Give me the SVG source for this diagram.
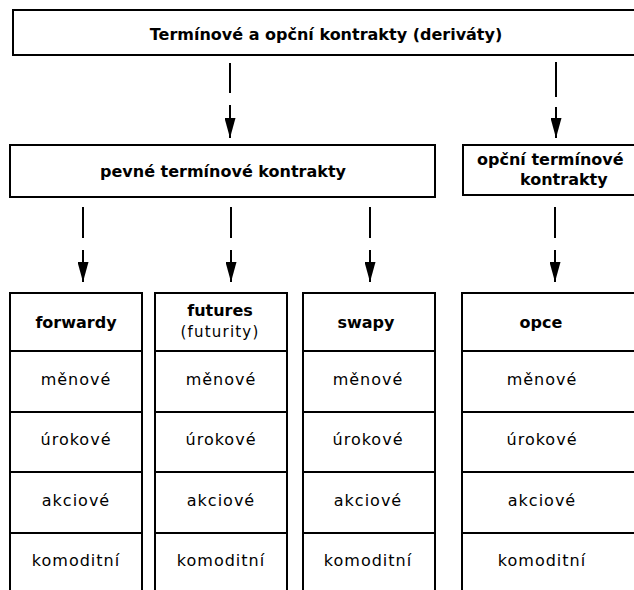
<svg xmlns="http://www.w3.org/2000/svg" width="634" height="590" viewBox="0 0 634 590">
<defs>
<style>
.box{fill:#fff;stroke:#000;stroke-width:2}
.div{stroke:#000;stroke-width:2}
.b{font-family:"DejaVu Sans","Liberation Sans",sans-serif;font-weight:bold;font-size:16px;fill:#000}
.r{font-family:"DejaVu Sans","Liberation Sans",sans-serif;font-size:16px;letter-spacing:1px;fill:#000}
.m{text-anchor:middle}
.con{fill:none;stroke:#000;stroke-width:2}
</style>
<marker id="ah" viewBox="0 0 20 11" refX="20" refY="5.5" markerWidth="20" markerHeight="11" markerUnits="userSpaceOnUse" orient="auto">
<path d="M0,0 L20,5.5 L0,11 z" fill="#000"/>
</marker>
</defs>
<rect width="634" height="590" fill="#fff"/>

<g id="connectors">
<path class="con" d="M230,63 V93 M230,105 V138" marker-end="url(#ah)"/>
<path class="con" d="M556,62 V97 M556,107 V138" marker-end="url(#ah)"/>
<path class="con" d="M83,207 V238 M83,250 V282" marker-end="url(#ah)"/>
<path class="con" d="M231,207 V238 M231,250 V282" marker-end="url(#ah)"/>
<path class="con" d="M370,207 V238 M370,250 V282" marker-end="url(#ah)"/>
<path class="con" d="M555,207 V238 M555,250 V282" marker-end="url(#ah)"/>
</g>

<g id="root">
<rect class="box" x="13" y="10" width="640" height="45"/>
<text class="b m" x="326" y="40">Termínové a opční kontrakty (deriváty)</text>
</g>

<g id="pevne">
<rect class="box" x="10" y="145" width="425" height="52"/>
<text class="b m" x="223" y="177">pevné termínové kontrakty</text>
</g>

<g id="opcni">
<rect class="box" x="463" y="145" width="190" height="50"/>
<text class="b" x="477" y="165">opční termínové</text>
<text class="b" x="520" y="185">kontrakty</text>
</g>

<g id="forwardy">
<rect class="box" x="10" y="293" width="132" height="310"/>
<line class="div" x1="10" y1="351" x2="142" y2="351"/>
<line class="div" x1="10" y1="412" x2="142" y2="412"/>
<line class="div" x1="10" y1="472" x2="142" y2="472"/>
<line class="div" x1="10" y1="533" x2="142" y2="533"/>
<text class="b m" x="76" y="328">forwardy</text>
<text class="r m" x="76" y="385">měnové</text>
<text class="r m" x="76" y="445">úrokové</text>
<text class="r m" x="76" y="506">akciové</text>
<text class="r m" x="76" y="566">komoditní</text>
</g>

<g id="futures">
<rect class="box" x="155" y="293" width="132" height="310"/>
<line class="div" x1="155" y1="351" x2="287" y2="351"/>
<line class="div" x1="155" y1="412" x2="287" y2="412"/>
<line class="div" x1="155" y1="472" x2="287" y2="472"/>
<line class="div" x1="155" y1="533" x2="287" y2="533"/>
<text class="b m" x="220" y="316">futures</text>
<text class="r m" x="220" y="337" style="font-size:15px;letter-spacing:1.2px">(futurity)</text>
<text class="r m" x="221" y="385">měnové</text>
<text class="r m" x="221" y="445">úrokové</text>
<text class="r m" x="221" y="506">akciové</text>
<text class="r m" x="221" y="566">komoditní</text>
</g>

<g id="swapy">
<rect class="box" x="303" y="293" width="132" height="310"/>
<line class="div" x1="303" y1="351" x2="435" y2="351"/>
<line class="div" x1="303" y1="412" x2="435" y2="412"/>
<line class="div" x1="303" y1="472" x2="435" y2="472"/>
<line class="div" x1="303" y1="533" x2="435" y2="533"/>
<text class="b m" x="366" y="328">swapy</text>
<text class="r m" x="368" y="385">měnové</text>
<text class="r m" x="368" y="445">úrokové</text>
<text class="r m" x="368" y="506">akciové</text>
<text class="r m" x="368" y="566">komoditní</text>
</g>

<g id="opce">
<rect class="box" x="462" y="293" width="200" height="310"/>
<line class="div" x1="462" y1="351" x2="662" y2="351"/>
<line class="div" x1="462" y1="412" x2="662" y2="412"/>
<line class="div" x1="462" y1="472" x2="662" y2="472"/>
<line class="div" x1="462" y1="533" x2="662" y2="533"/>
<text class="b m" x="541" y="328">opce</text>
<text class="r m" x="542" y="385">měnové</text>
<text class="r m" x="542" y="445">úrokové</text>
<text class="r m" x="542" y="506">akciové</text>
<text class="r m" x="542" y="566">komoditní</text>
</g>
</svg>
